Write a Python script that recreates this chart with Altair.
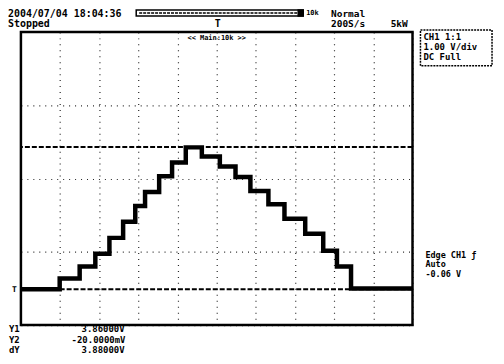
import altair as alt
import pandas as pd

# Waveform: step edges (divisions, 0..10) and step levels (volts)
edge_div = [0, 0.99, 1.50, 1.90, 2.26, 2.61, 2.92, 3.17, 3.53, 3.86, 4.21, 4.62,
            5.08, 5.48, 5.86, 6.32, 6.73, 7.26, 7.72, 8.07, 8.43, 10]
level_v = [-0.02, 0.27, 0.60, 0.95, 1.38, 1.82, 2.25, 2.63, 3.06, 3.44, 3.85, 3.60,
           3.33, 3.04, 2.66, 2.30, 1.90, 1.49, 1.03, 0.60, 0.00, 0.00]

cursor_names = ["Y1", "Y2"]
cursor_values = [3.86, -0.02]

grid_x = list(range(0, 11))
grid_y = list(range(-1, 8))

FONT = "DejaVu Sans Mono"

wave = pd.DataFrame({"t": edge_div, "v": level_v})
cursors = pd.DataFrame({"name": cursor_names, "v": cursor_values})

xs = alt.Scale(domain=[0, 10], nice=False, zero=False)
ys = alt.Scale(domain=[-1, 7], nice=False, zero=False)

xaxis = alt.Axis(values=grid_x, labels=False, ticks=False, domain=False, title=None,
                 grid=True, gridDash=[1, 5], gridColor="#000000", gridOpacity=0.85, gridWidth=1.2)
yaxis = alt.Axis(values=grid_y, labels=False, ticks=False, domain=False, title=None,
                 grid=True, gridDash=[1, 5], gridColor="#000000", gridOpacity=0.85, gridWidth=1.2)

line = alt.Chart(wave).mark_line(interpolate="step-after", color="black", strokeWidth=4.5).encode(
    x=alt.X("t:Q", scale=xs, axis=xaxis),
    y=alt.Y("v:Q", scale=ys, axis=yaxis),
)

cur = alt.Chart(cursors).mark_rule(color="black", strokeWidth=2, strokeDash=[5, 2]).encode(
    y=alt.Y("v:Q", scale=ys)
)


def label(t, x, y, size=9, align="left"):
    return alt.Chart(pd.DataFrame({"t": [t]})).mark_text(
        font=FONT, fontWeight="bold", fontSize=size, align=align, baseline="middle", color="black"
    ).encode(x=alt.value(x), y=alt.value(y), text="t:N")


def box(x1, x2, y1, y2, width=1.5, fill="white", dash=None):
    kw = dict(fill=fill, stroke="black", strokeWidth=width)
    if dash:
        kw["strokeDash"] = dash
    return alt.Chart(pd.DataFrame({"a": [0]})).mark_rect(**kw).encode(
        x=alt.value(x1), x2=alt.value(x2), y=alt.value(y1), y2=alt.value(y2)
    )


def hline(x1, x2, y, width=1.2, dash=None):
    kw = dict(color="black", strokeWidth=width)
    if dash:
        kw["strokeDash"] = dash
    return alt.Chart(pd.DataFrame({"a": [0]})).mark_rule(**kw).encode(
        x=alt.value(x1), x2=alt.value(x2), y=alt.value(y)
    )


L = -13  # left edge of canvas relative to plot

layers = [
    line, cur,
    # top status
    label("2004/07/04 18:04:36", L, -18, 10),
    label("Stopped", L, -8, 10),
    box(116, 284, -22, -16, 1.5),
    hline(119, 281, -19, 1.5, [3, 1]),
    box(279, 284, -22, -16, 1.5, fill="black"),
    label("10k", 287, -19, 7),
    label("Normal", 312, -18, 9.5),
    label("T", 195, -8, 10),
    label("200S/s", 312, -8, 9.5),
    label("5kW", 372, -8, 9.5),
    label("<< Main:10k >>", 197, 6, 7, align="center"),
    # channel box
    box(402, 474, -2, 34, 1.5, dash=[2, 1]),
    label("CH1 1:1", 405, 5, 9),
    label("1.00 V/div", 405, 15, 9),
    label("DC  Full", 405, 25, 9),
    # trigger
    label("Edge CH1 \u0192", 407, 224, 8.5),
    label("Auto", 407, 234, 8.5),
    label("-0.06 V", 407, 244, 8.5),
    label("T", -9, 260, 8),
    # cursors readout
    label("Y1", L + 1, 299, 9),
    label("Y2", L + 1, 309.5, 9),
    label("dY", L + 1, 320, 9),
    label("3.86000V", 61, 299, 9),
    label("-20.0000mV", 51, 309.5, 9),
    label("3.88000V", 61, 320, 9),
]

chart = alt.layer(*layers).properties(
    width=394, height=295,
    autosize=alt.AutoSizeParams(type="none"),
    padding={"left": 13, "top": 23, "right": 84, "bottom": 28},
    background="white",
).configure_view(stroke="black", strokeWidth=2.5)

chart.save("out.html", embed_options={"renderer": "svg", "actions": False})
